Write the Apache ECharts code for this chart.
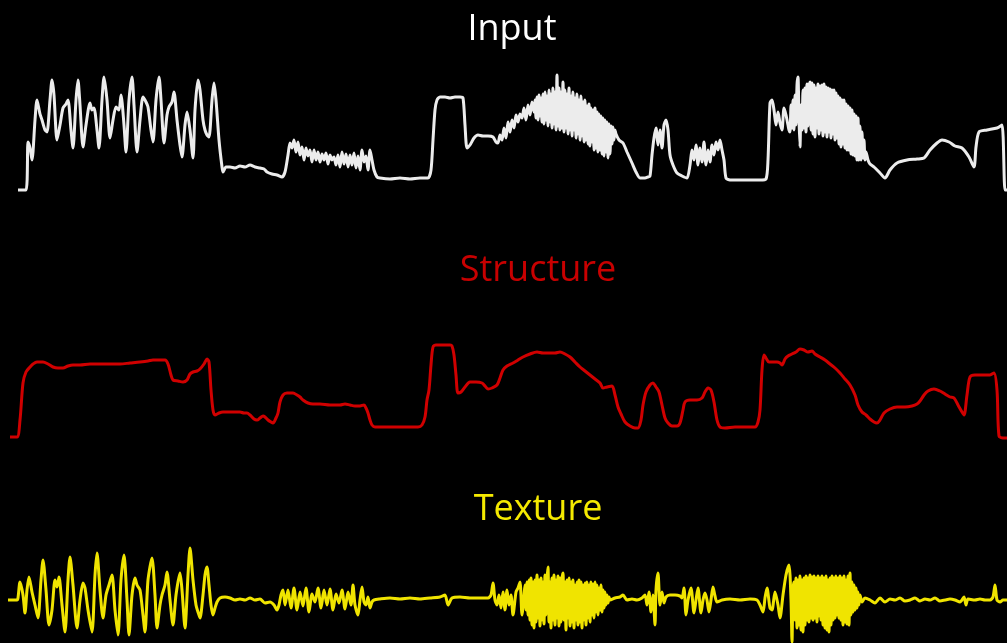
<!DOCTYPE html>
<html>
<head>
<meta charset="utf-8">
<title>Input / Structure / Texture</title>
<script src="https://cdn.jsdelivr.net/npm/echarts@6/dist/echarts.min.js"></script>
<style>
    html, body { margin: 0; padding: 0; background: #000; }
    #chart { width: 1007px; height: 643px; }
</style>
</head>
<body>
<div id="chart"></div>
<script>
// panel titles
var titles = ['Input', 'Structure', 'Texture'];

// input signal [t, value]
var inputSignal = [
    [18,10],[26,10],[28,58],[30,52],[32,40],[35,80],[37,100],[40,86],[42,80],[45,70],[47,68],[50,100],[52,120],[54,105],[57,60],[60,75],
    [63,92],[66,96],[68,100],[71,70],[73,52],[76,100],[78,120],[80,95],[83,53],[86,75],[90,97],[92,90],[94,92],[97,70],[99,52],[102,100],
    [104,123],[107,100],[110,62],[113,80],[116,93],[119,90],[121,105],[124,75],[126,48],[129,100],[132,123],[134,95],[137,48],[140,80],
    [143,103],[146,98],[148,93],[151,70],[153,58],[156,100],[159,123],[161,100],[164,57],[167,85],[169,93],[172,98],[174,108],[177,80],
    [180,55],[182,43],[185,75],[187,88],[190,70],[193,42],[195,90],[198,120],[200,110],[203,80],[205,70],[207,65],[209,63],[212,100],
    [214,117],[216,100],[219,60],[222,33],[223,28],[226,33],[230,33],[235,32],[240,34],[245,33],[250,35],[255,33],[260,32],[264,31],
    [267,28],[272,26],[277,25],[282,23],[285,28],[288,45],[290,57],[292,52],[294,60],[296,48],[298,58],[300,45],[302,53],[304,40],
    [306,52],[308,44],[310,50],[312,38],[314,50],[316,40],[318,48],[320,38],[322,46],[324,40],[326,47],[328,36],[330,45],[332,40],
    [334,43],[336,35],[338,45],[340,33],[342,48],[344,36],[346,46],[348,33],[350,45],[352,35],[354,47],[356,32],[358,44],[360,30],
    [362,50],[364,38],[366,44],[368,30],[370,50],[372,40],[374,30],[377,23],[380,22],[390,21],[400,22],[410,21],[420,22],[428,22],
    [431,30],[433,60],[435,90],[437,100],[440,103],[445,103],[450,102],[455,103],[460,103],[463,102],[465,75],[467,52],[470,55],
    [474,62],[478,65],[483,64],[488,64],[493,63],[496,58],[498,57],[500,65],[502,60],[504,72],[506,62],[508,78],[510,68],[512,80],
    [514,72],[516,85],[518,78],[520,86],[522,82],[524,92],[526,80],[528,95],[530,85],[532,98],[534,88],
    [535,100],[536,82],[537,103],[538,80],[539,105],[540,84],[541,102],[542,78],[543,106],[544,76],[545,108],[546,80],[547,104],
    [548,74],[549,110],[550,78],[551,106],[552,72],[553,112],[554,76],[555,108],[556,70],[557,125],[558,74],[559,112],[560,70],
    [561,108],[562,72],[563,118],[564,68],[565,110],[566,72],[567,106],[568,66],[569,112],[570,70],[571,104],[572,64],[573,108],
    [574,70],[575,102],[576,62],[577,106],[578,66],[579,100],[580,60],[581,104],[582,64],[583,98],[584,58],[585,100],[586,60],
    [587,94],[588,56],[589,96],[590,54],[591,92],[592,58],[593,90],[594,50],[595,92],[596,52],[597,88],[598,48],[599,86],[600,50],
    [601,84],[602,46],[603,82],[604,44],[605,80],[606,48],[607,78],[608,42],[609,76],[610,46],[611,74],[612,56],[613,73],[614,60],
    [615,70],[616,66],[619,60],[623,57],[627,48],[632,37],[636,28],[640,22],[645,22],[648,23],[650,24],[652,45],[654,62],[656,72],
    [658,55],[660,70],[662,52],[664,75],[666,80],[668,70],[670,45],[673,35],[677,27],[682,24],[687,22],[690,35],[692,50],[694,40],
    [696,55],[698,35],[700,52],[702,38],[704,58],[706,35],[708,50],[710,38],[712,55],[714,45],[716,58],[718,50],[720,60],[722,50],
    [724,40],[726,22],[730,20],[740,20],[750,20],[760,20],[766,21],[768,40],[770,97],[772,100],[774,90],[776,75],[778,88],[780,77],
    [782,70],[784,92],[786,85],[788,75],[789,70],
    [790,68],[791,95],[792,72],[793,100],[794,70],[795,105],[796,75],[797,115],[798,123],[799,80],[800,53],[801,95],[802,70],
    [803,110],[804,72],[805,112],[806,68],[807,116],[808,74],[809,114],[810,118],[811,70],[812,117],[813,66],[814,115],[815,63],
    [816,112],[817,72],[818,116],[819,66],[820,114],[821,70],[822,115],[823,64],[824,116],[825,68],[826,113],[827,63],[828,112],
    [829,68],[830,111],[831,62],[832,110],[833,66],[834,110],[835,60],[836,107],[837,62],[838,104],[839,56],[840,102],[841,53],
    [842,100],[843,56],[844,100],[845,52],[846,96],[847,50],[848,94],[849,50],[850,92],[851,46],[852,90],[853,45],[854,86],
    [855,44],[856,84],[857,40],[858,82],[859,40],[860,74],[861,40],[862,68],[863,42],[864,60],[865,40],[866,48],[868,40],[870,36],
    [874,33],[880,27],[885,22],[890,30],[897,37],[907,40],[917,41],[924,42],[930,50],[937,57],[942,60],[949,58],[955,54],[962,52],
    [969,43],[974,33],[976,53],[979,68],[987,70],[997,72],[1002,75],[1005,10],[1007,10]
];

// structure component [t, value]
var structureSignal = [
    [10,13],[17,13],[20,30],[23,67],[26,78],[30,83],[33,86],[37,88],[43,88],[48,86],[53,83],[58,82],[63,82],[68,84],[73,85],[80,85],
    [90,86],[100,86],[110,86],[120,86],[130,87],[140,88],[148,89],[153,90],[160,90],[165,90],[168,86],[171,75],[173,70],[178,69],
    [183,68],[187,70],[190,76],[193,78],[197,79],[200,81],[204,86],[207,91],[209,88],[211,60],[213,40],[215,35],[219,37],[223,38],
    [228,38],[233,38],[237,38],[240,38],[244,37],[247,37],[250,35],[254,31],[257,30],[260,32],[263,34],[265,33],[268,30],[271,28],
    [273,27],[276,32],[278,37],[280,48],[283,55],[287,57],[293,57],[297,55],[300,53],[303,50],[308,47],[313,46],[320,46],[330,45],
    [340,45],[345,46],[350,45],[355,44],[360,44],[364,45],[366,42],[368,37],[370,30],[372,25],[375,23],[380,23],[390,23],[400,23],
    [410,23],[418,23],[422,25],[425,33],[427,50],[429,60],[431,85],[433,103],[436,105],[440,105],[445,105],[450,105],[452,104],
    [454,95],[456,75],[458,57],[461,58],[465,63],[470,68],[476,68],[482,67],[485,64],[488,61],[492,62],[497,65],[500,72],[503,80],
    [507,84],[513,87],[518,90],[523,93],[530,96],[537,98],[543,97],[550,97],[555,97],[560,98],[565,96],[570,93],[575,88],[580,83],
    [585,79],[590,75],[595,71],[600,67],[603,62],[607,63],[612,64],[615,55],[618,43],[621,36],[625,28],[630,24],[635,22],[638,22],
    [641,30],[643,45],[646,58],[650,65],[653,67],[656,63],[659,58],[662,45],[665,32],[668,27],[672,24],[677,24],[680,27],[683,40],
    [685,48],[690,50],[697,50],[702,52],[705,58],[708,62],[711,60],[714,48],[717,30],[720,23],[725,22],[735,23],[745,23],[755,23],
    [758,28],[760,40],[762,80],[764,95],[766,92],[769,88],[773,88],[777,88],[780,87],[782,85],[785,91],[788,94],[792,96],[796,98],
    [800,101],[804,100],[808,98],[812,99],[815,96],[820,93],[825,90],[830,86],[835,82],[840,77],[845,71],[850,65],[855,55],[858,45],
    [862,38],[866,35],[870,31],[874,28],[877,27],[880,30],[884,37],[890,41],[897,43],[905,43],[912,44],[917,46],[920,49],[924,55],
    [928,59],[934,61],[940,59],[945,56],[950,53],[954,52],[958,45],[962,38],[964,35],[967,55],[970,73],[975,75],[983,75],[990,75],
    [994,77],[997,60],[999,14],[1003,12],[1007,12]
];

// texture component [t, value]
var textureSignal = [
    [8,0],[17,0],[18,2],[20,18],[23,5],[25,-13],[27,10],[29,23],[32,8],[35,-5],[38,-18],[41,20],[43,40],[46,10],[49,-25],[52,-10],
    [55,20],[57,13],[59,23],[62,-5],[65,-32],[68,20],[70,43],[73,15],[77,-28],[80,0],[83,17],[85,12],[88,-10],[92,-32],[95,25],
    [97,47],[100,10],[103,-18],[106,5],[109,15],[112,25],[115,-10],[118,-35],[121,20],[124,45],[127,0],[129,-35],[132,5],[135,22],
    [137,15],[140,10],[143,-15],[145,-32],[148,20],[152,42],[155,5],[157,-28],[160,-5],[162,5],[165,15],[167,28],[170,0],[173,-25],
    [176,5],[180,27],[182,10],[185,-28],[188,25],[190,52],[193,20],[196,-5],[198,-12],[200,-18],[203,5],[205,25],[207,33],[209,15],
    [211,-5],[213,-15],[215,-8],[217,-2],[220,2],[225,3],[230,2],[235,0],[240,1],[245,0],[250,2],[255,0],[260,1],[265,-3],[270,-2],
    [274,-5],[277,-10],[279,-5],[281,5],[283,10],[285,-5],[288,10],[291,-8],[294,12],[297,-10],[300,8],[303,-6],[306,12],[309,-12],
    [312,6],[315,-2],[318,12],[321,-8],[324,10],[327,-5],[330,11],[333,-10],[336,6],[339,-3],[342,10],[345,-9],[348,8],[351,-5],
    [353,15],[355,-5],[358,-15],[360,0],[362,13],[364,-2],[366,-5],[368,3],[370,-8],[372,-2],[374,0],[380,1],[390,2],[400,1],
    [410,2],[420,1],[430,2],[440,3],[445,5],[448,-5],[452,2],[460,3],[470,2],[480,2],[488,2],[491,5],[493,17],[495,0],[497,-5],
    [499,5],[501,-8],[503,8],[505,-10],[507,10],[509,-5],[511,5],[513,-15],[516,8],[518,12],[520,18],[522,-15],[524,5],
    [525,15],[526,-10],[527,18],[528,-15],[529,20],[530,-20],[531,22],[532,-25],[533,18],[534,-28],[535,20],[536,-22],[537,25],
    [538,-18],[539,20],[540,-26],[541,22],[542,-20],[543,18],[544,-24],[545,25],[546,-15],[547,20],[548,33],[549,-22],[550,18],
    [551,-28],[552,22],[553,-20],[554,25],[555,-25],[556,20],[557,-18],[558,24],[559,-26],[560,22],[561,-22],[562,20],[563,27],
    [564,-20],[565,18],[566,-30],[567,20],[568,-18],[569,22],[570,-26],[571,18],[572,-22],[573,20],[574,-28],[575,15],[576,-20],
    [577,18],[578,-25],[579,20],[580,-22],[581,18],[582,-28],[583,15],[584,-20],[585,17],[586,-25],[587,18],[588,-18],[589,15],
    [590,-22],[591,18],[592,-15],[593,16],[594,-18],[595,18],[596,-12],[597,15],[598,-15],[599,12],[600,-10],[601,15],[602,-12],
    [603,10],[604,-8],[605,8],[606,-5],[607,5],[608,-3],[609,3],[610,0],
    [615,2],[620,3],[623,5],[627,0],[632,1],[637,0],[642,2],[645,5],[647,-5],[649,8],[651,-12],[653,5],[655,-25],[656,10],[658,27],
    [660,-5],[662,8],[664,-3],[666,3],[670,5],[675,5],[680,4],[682,2],[684,12],[686,-15],[688,0],[691,12],[694,-13],[696,0],
    [698,12],[701,-13],[703,0],[705,7],[707,0],[709,-12],[711,0],[713,13],[715,4],[717,-2],[722,0],[730,1],[740,0],[750,1],[757,0],
    [760,-5],[763,-12],[765,2],[767,12],[770,-8],[772,-10],[775,8],[778,-5],[780,-18],[783,5],[786,25],[789,35],[791,0],[792,-42],
    [793,10],
    [794,18],[795,-20],[796,22],[797,-28],[798,20],[799,-25],[800,24],[801,-30],[802,20],[803,-32],[804,22],[805,-25],[806,24],
    [807,-20],[808,22],[809,-22],[810,25],[811,-18],[812,23],[813,-20],[814,24],[815,-18],[816,22],[817,-22],[818,24],[819,-16],
    [820,22],[821,-20],[822,24],[823,-25],[824,22],[825,-28],[826,24],[827,-30],[828,20],[829,-32],[830,22],[831,-25],[832,24],
    [833,-20],[834,22],[835,-18],[836,24],[837,-15],[838,22],[839,-18],[840,24],[841,-20],[842,22],[843,-25],[844,24],[845,-22],
    [846,20],[847,-24],[848,24],[849,-25],[850,27],[851,-15],[852,18],[853,-12],[854,15],[855,-10],[856,12],[857,-8],[858,8],
    [859,-5],[860,5],[862,-2],[865,2],
    [870,0],[875,-3],[880,2],[885,-2],[890,1],[895,0],[900,2],[905,-1],[910,0],[915,2],[920,-1],[925,1],[930,0],[935,2],[940,-1],
    [945,0],[950,1],[955,0],[960,-2],[964,3],[966,-5],[968,1],[975,0],[980,1],[985,0],[990,0],[993,3],[995,15],[997,0],[1000,-2],
    [1003,0],[1007,0]
];

var myChart = echarts.init(document.getElementById('chart'));

var titleFont = '36px "Open Sans"';
var option = {
    backgroundColor: '#000',
    animation: false,
    graphic: [
        { type: 'text', x: 512, y: 30, style: { text: titles[0], font: titleFont, fill: '#ffffff', textAlign: 'center', textVerticalAlign: 'middle' } },
        { type: 'text', x: 538, y: 271, style: { text: titles[1], font: titleFont, fill: '#c80000', textAlign: 'center', textVerticalAlign: 'middle' } },
        { type: 'text', x: 538, y: 510, style: { text: titles[2], font: titleFont, fill: '#f5ea00', textAlign: 'center', textVerticalAlign: 'middle' } }
    ],
    grid: [
        { left: 0, top: 60, width: 1007, height: 140 },
        { left: 0, top: 330, width: 1007, height: 120 },
        { left: 0, top: 530, width: 1007, height: 113 }
    ],
    xAxis: [0, 1, 2].map(function (i) {
        return { type: 'value', gridIndex: i, min: 0, max: 1007, show: false };
    }),
    yAxis: [
        { type: 'value', gridIndex: 0, min: 0, max: 140, show: false },
        { type: 'value', gridIndex: 1, min: 0, max: 120, show: false },
        { type: 'value', gridIndex: 2, min: -43, max: 70, show: false }
    ],
    series: [
        {
            name: titles[0],
            type: 'line',
            xAxisIndex: 0,
            yAxisIndex: 0,
            data: inputSignal,
            showSymbol: false,
            smooth: 0.25,
            lineStyle: { color: '#ececec', width: 3 }
        },
        {
            name: titles[1],
            type: 'line',
            xAxisIndex: 1,
            yAxisIndex: 1,
            data: structureSignal,
            showSymbol: false,
            smooth: 0.3,
            lineStyle: { color: '#d00000', width: 3 }
        },
        {
            name: titles[2],
            type: 'line',
            xAxisIndex: 2,
            yAxisIndex: 2,
            data: textureSignal,
            showSymbol: false,
            smooth: 0.25,
            lineStyle: { color: '#f0e400', width: 3 }
        }
    ]
};
myChart.setOption(option);
</script>
</body>
</html>
